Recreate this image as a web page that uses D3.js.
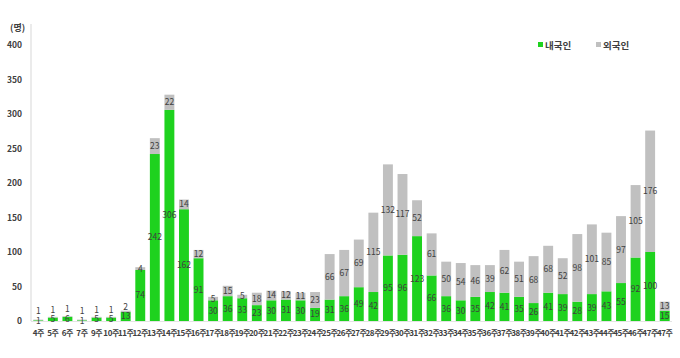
<!DOCTYPE html>
<html><head><meta charset="utf-8">
<script src="https://cdn.jsdelivr.net/npm/d3@7"></script>
<style>body{margin:0;background:#fff}svg{display:block}text{font-family:"Noto Sans CJK KR","Noto Sans",sans-serif}</style>
</head><body><svg id="c" width="680" height="358"></svg>
<script>
const categories = ["4주","5주","6주","7주","9주","10주","11주","12주","13주","14주","15주","16주","17주","18주","19주","20주","21주","22주","23주","24주","25주","26주","27주","28주","29주","30주","31주","32주","33주","34주","35주","36주","37주","38주","39주","40주","41주","42주","43주","44주","45주","46주","47주","47주"];
const domestic = [1,5,6,1,5,5,13,74,242,306,162,91,30,36,33,23,30,31,30,19,31,36,49,42,95,96,123,66,36,30,35,42,41,35,26,41,39,28,39,43,55,92,100,15];
const foreign  = [1,1,1,1,1,1,2,4,23,22,14,12,5,15,5,18,14,12,11,23,66,67,69,115,132,117,52,61,50,54,46,39,62,51,68,68,52,98,101,85,97,105,176,13];
const seriesNames = ["내국인","외국인"];
const yTicks = [0,50,100,150,200,250,300,350,400];
const colors = {dom:"#1ed21e", for:"#c0c0c0"};

(function(){
const svg = d3.select("#c");
const L = 31, R = 672, T = 45, B = 321;
const x = d3.scaleBand().domain(d3.range(categories.length)).range([L, R]).paddingInner(0.32).paddingOuter(0.16);
const y = d3.scaleLinear().domain([0,400]).range([B, T]);

svg.append("line").attr("x1",L).attr("x2",L).attr("y1",24).attr("y2",B).attr("stroke","#e4e4e4").attr("stroke-width",1.5);
svg.append("line").attr("x1",L).attr("x2",R).attr("y1",B+0.5).attr("y2",B+0.5).attr("stroke","#e4e4e4");

const yAxis = d3.axisLeft(y).tickValues(yTicks).tickSize(0).tickPadding(0);
const ga = svg.append("g").attr("transform",`translate(22,0)`).call(yAxis);
ga.select(".domain").remove();
ga.selectAll("text").attr("font-size",8.5).attr("font-weight","bold").attr("fill","#404040").attr("font-family","'Noto Sans','DejaVu Sans',sans-serif");
svg.append("text").attr("x",10).attr("y",31).attr("font-size",9).attr("font-weight","bold").attr("fill","#404040").text("(명)");

const g = svg.append("g");
categories.forEach((c,i)=>{
  const d = domestic[i], f = foreign[i];
  g.append("rect").attr("x",x(i)).attr("width",x.bandwidth()).attr("y",y(d)).attr("height",y(0)-y(d)).attr("fill",colors.dom);
  g.append("rect").attr("x",x(i)).attr("width",x.bandwidth()).attr("y",y(d+f)).attr("height",y(d)-y(d+f)).attr("fill",colors.for);
});
const lab = svg.append("g").attr("font-size",8.5).attr("fill","#3f3f3f").attr("text-anchor","middle").attr("font-family","'Noto Sans','DejaVu Sans',sans-serif");
categories.forEach((c,i)=>{
  const d = domestic[i], f = foreign[i];
  const cx = x(i)+x.bandwidth()/2;
  const dy = y(d/2);
  const fy = Math.min(y(d+f/2), dy-9.5);
  lab.append("text").attr("x",cx).attr("y",dy).attr("dy","0.35em").text(d);
  lab.append("text").attr("x",cx).attr("y",fy).attr("dy","0.35em").text(f);
});
const xl = svg.append("g").attr("font-size",8).attr("font-weight","bold").attr("fill","#404040").attr("text-anchor","middle");
categories.forEach((c,i)=>{
  xl.append("text").attr("x",x(i)+x.bandwidth()/2).attr("y",336).attr("letter-spacing",-0.4).text(c);
});
const leg = svg.append("g").attr("font-size",9.5).attr("font-weight","bold").attr("fill","#404040");
leg.append("rect").attr("x",538).attr("y",42).attr("width",5).attr("height",5).attr("fill",colors.dom);
leg.append("text").attr("x",545).attr("y",48.5).text(seriesNames[0]);
leg.append("rect").attr("x",596).attr("y",42).attr("width",5).attr("height",5).attr("fill",colors.for);
leg.append("text").attr("x",603).attr("y",48.5).text(seriesNames[1]);
})();
</script></body></html>
